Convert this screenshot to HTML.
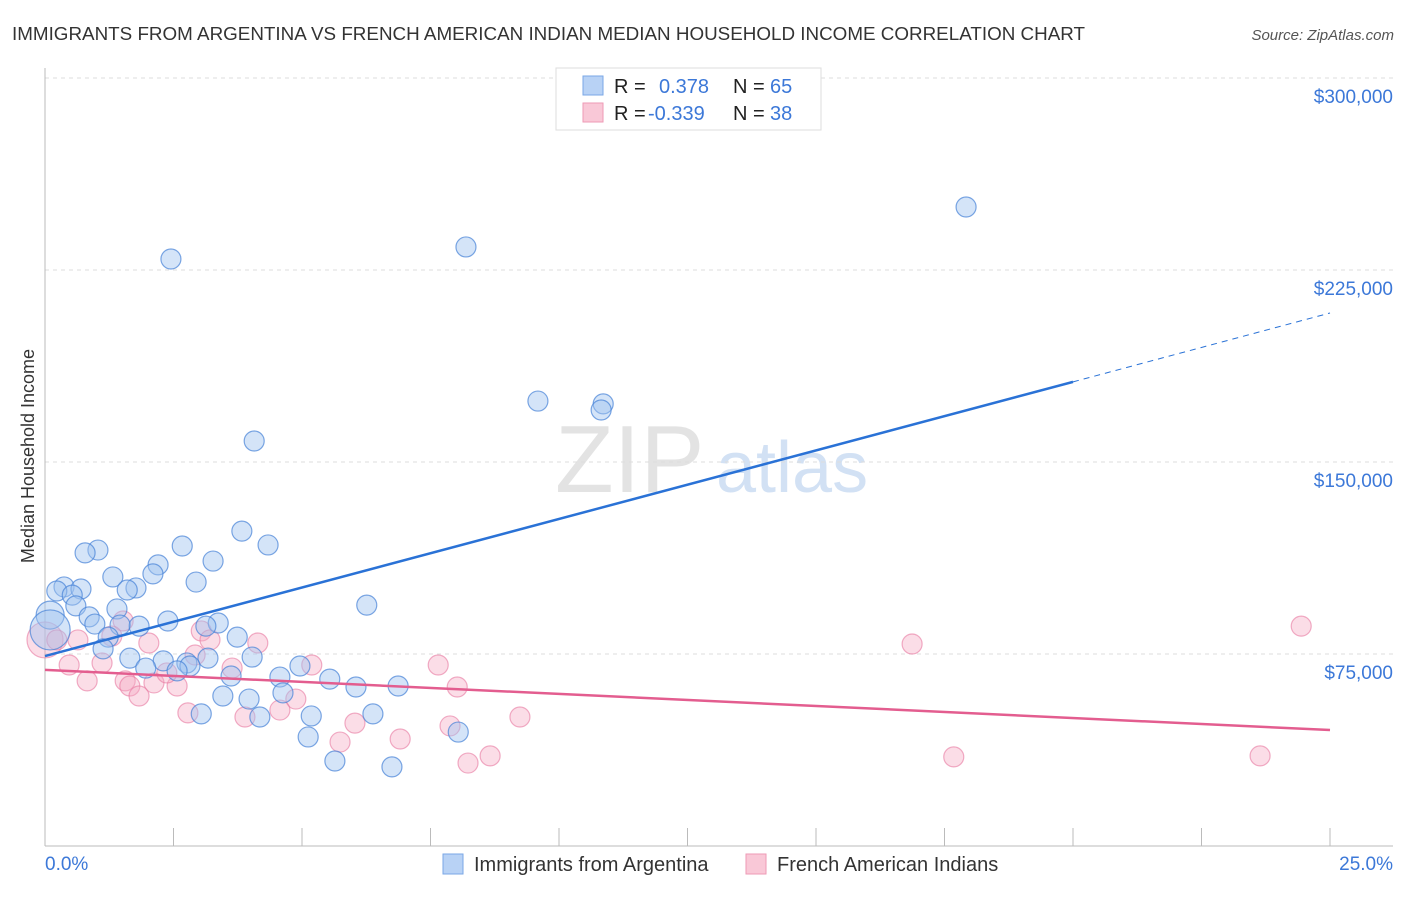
<!DOCTYPE html>
<html><head><meta charset="utf-8"><style>
body{margin:0;background:#fff;font-family:"Liberation Sans",sans-serif;}
svg text{font-family:"Liberation Sans",sans-serif;}
</style></head><body>
<svg id="chart" width="1406" height="892" xmlns="http://www.w3.org/2000/svg">
<text x="12" y="40" font-size="18.5" fill="#333" textLength="1073" lengthAdjust="spacingAndGlyphs">IMMIGRANTS FROM ARGENTINA VS FRENCH AMERICAN INDIAN MEDIAN HOUSEHOLD INCOME CORRELATION CHART</text>
<text x="1394" y="40" font-size="15" fill="#555" font-style="italic" text-anchor="end">Source: ZipAtlas.com</text>
<text x="34" y="456" font-size="18" fill="#333" text-anchor="middle" transform="rotate(-90 34 456)">Median Household Income</text>
<g><text x="555" y="492" font-size="96" fill="#ddd" font-family="Liberation Serif" opacity="0.8">ZIP</text><text x="716" y="492" font-size="72" fill="#c8daf2" opacity="0.8">atlas</text></g>
<g id="grid"></g><g id="marks"></g>
<g>
<rect x="556" y="68" width="265" height="62" fill="#fff" stroke="#ddd"/>
<rect x="583" y="76" width="20" height="19" fill="#b8d2f5" stroke="#7aa7e6"/>
<rect x="583" y="103" width="20" height="19" fill="#f9c8d7" stroke="#ee9ab5"/>
<text x="614" y="93" font-size="20" fill="#222">R = </text><text x="659" y="93" font-size="20" fill="#3c78d8">0.378</text>
<text x="733" y="93" font-size="20" fill="#222">N = </text><text x="770" y="93" font-size="20" fill="#3c78d8">65</text>
<text x="614" y="120" font-size="20" fill="#222">R = </text><text x="648" y="120" font-size="20" fill="#3c78d8">-0.339</text>
<text x="733" y="120" font-size="20" fill="#222">N = </text><text x="770" y="120" font-size="20" fill="#3c78d8">38</text>
</g>
<g>
<rect x="443" y="854" width="20" height="20" fill="#b8d2f5" stroke="#7aa7e6"/>
<text x="474" y="871" font-size="20" fill="#333">Immigrants from Argentina</text>
<rect x="746" y="854" width="20" height="20" fill="#f9c8d7" stroke="#ee9ab5"/>
<text x="777" y="871" font-size="20" fill="#333">French American Indians</text>
</g>
</svg>
<script>
const blueX=[2.45,8.19,17.92,9.59,10.86,10.82,4.07,6.26,3.83,4.34,2.67,1.03,0.78,3.27,2.20,2.10,1.32,2.94,1.77,1.60,0.37,0.70,0.23,0.53,0.60,1.40,0.86,2.39,3.37,1.83,3.13,1.46,0.97,3.74,1.23,1.13,4.03,1.65,3.17,2.30,2.76,2.82,1.96,2.57,4.96,3.62,4.57,5.54,6.05,6.87,4.63,3.46,3.97,3.04,5.18,4.18,6.38,8.04,5.12,5.64,6.75,0.10,0.10];
const blueY=[229.3,234.0,249.6,173.8,172.7,170.3,158.2,94.1,123.0,117.6,117.2,115.6,114.5,111.3,109.8,106.3,105.1,103.1,100.8,100.0,101.2,100.4,99.6,98.0,93.8,92.6,89.5,87.9,87.1,85.9,85.9,86.3,86.7,81.6,81.6,77.0,73.8,73.4,73.4,72.3,71.5,70.3,69.5,68.4,70.3,66.4,66.0,65.2,62.1,62.5,59.8,58.6,57.4,51.6,50.8,50.4,51.6,44.5,42.6,33.2,30.9,90.2,84.4];
const blueR=blueX.map((v,i)=>i==61?14:(i==62?20:10));
const pinkX=[0,0.23,0.64,1.52,1.30,2.02,3.04,3.21,4.14,0.47,1.11,0.82,1.56,1.65,2.12,2.57,1.83,2.92,2.37,3.64,5.19,7.65,8.02,4.88,2.78,3.89,4.57,6.03,7.88,9.24,5.74,6.91,8.66,8.23,16.87,24.44,17.68,23.64];
const pinkY=[80.5,80.5,80.5,87.9,82.0,79.3,84.0,80.5,79.3,70.7,71.5,64.5,64.5,62.5,63.7,62.5,58.6,74.6,67.6,69.5,70.7,70.7,62.1,57.4,52.0,50.4,53.1,48.0,46.9,50.4,40.6,41.8,35.2,32.4,78.9,85.9,34.8,35.2];
const pinkR=pinkX.map((v,i)=>i==0?18:10);
const yTicks=[75,150,225,300];
const yTickLabels=["$75,000","$150,000","$225,000","$300,000"];
const xTicks=[0,2.5,5,7.5,10,12.5,15,17.5,20,22.5,25];
const blueTrend=[[0,74.2],[20,181.3],[25,208.2]];
const pinkTrend=[[0,68.8],[25,45.3]];
const NS="http://www.w3.org/2000/svg";
const sx=v=>45+v*51.4, sy=v=>846-v*2.56;
function mk(t,a,p){const e=document.createElementNS(NS,t);for(const k in a)e.setAttribute(k,a[k]);p.appendChild(e);return e;}
const g=document.getElementById('grid'), m=document.getElementById('marks');
yTicks.forEach((t,i)=>{
 const l=mk('line',{x1:45,x2:1393,y1:sy(t),y2:sy(t),stroke:'#ddd','stroke-dasharray':'4,4'},g);
 
 
 const tx=mk('text',{x:1393,y:sy(t)+25,'font-size':19,fill:'#3c78d8','text-anchor':'end'},g);
 tx.textContent=yTickLabels[i];
 
 
});
mk('line',{x1:45,x2:1393,y1:sy(0),y2:sy(0),stroke:'#bbb'},g);
mk('line',{x1:45,x2:45,y1:68,y2:846,stroke:'#bbb'},g);
xTicks.forEach(t=>{const l=mk('line',{x1:sx(t),x2:sx(t),y1:828,y2:846,stroke:'#bbb'},g);
 
 });
const xl=mk('text',{x:45,y:870,'font-size':19,fill:'#3c78d8'},g);xl.textContent='0.0%';


const xr=mk('text',{x:1393,y:870,'font-size':19,fill:'#3c78d8','text-anchor':'end'},g);xr.textContent='25.0%';


pinkX.forEach((x,i)=>{const c=mk('circle',{cx:sx(x),cy:sy(pinkY[i]),r:pinkR[i],fill:'rgba(245,170,195,0.4)',stroke:'rgba(232,120,160,0.6)','stroke-width':1.2},m);
 
 });
blueX.forEach((x,i)=>{const c=mk('circle',{cx:sx(x),cy:sy(blueY[i]),r:blueR[i],fill:'rgba(160,195,240,0.45)',stroke:'rgba(70,130,215,0.7)','stroke-width':1.2},m);
 
 });
const b1=mk('line',{x1:sx(blueTrend[0][0]),y1:sy(blueTrend[0][1]),x2:sx(blueTrend[1][0]),y2:sy(blueTrend[1][1]),stroke:'#2a72d6','stroke-width':2.5},m);


const b2=mk('line',{x1:sx(blueTrend[1][0]),y1:sy(blueTrend[1][1]),x2:sx(blueTrend[2][0]),y2:sy(blueTrend[2][1]),stroke:'#2a72d6','stroke-width':1,'stroke-dasharray':'6,5'},m);


const p1=mk('line',{x1:sx(pinkTrend[0][0]),y1:sy(pinkTrend[0][1]),x2:sx(pinkTrend[1][0]),y2:sy(pinkTrend[1][1]),stroke:'#e35d8f','stroke-width':2.5},m);


</script>
</body></html>
